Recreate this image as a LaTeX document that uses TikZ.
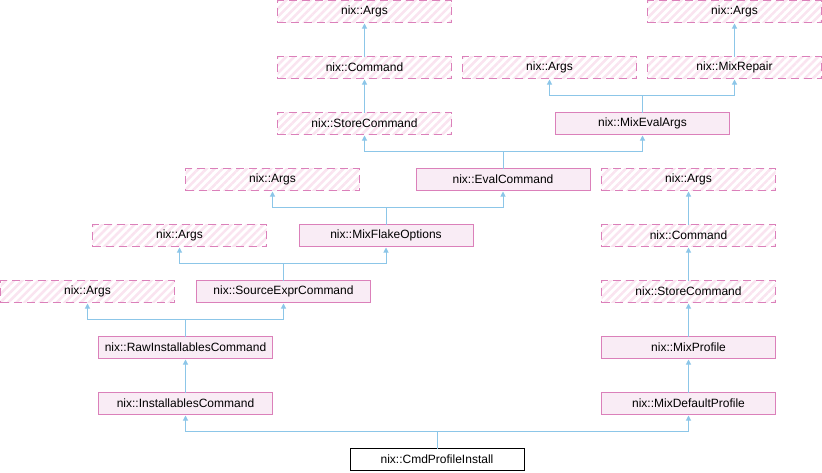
\documentclass[tikz,border=0pt]{standalone}
\usepackage{fontspec}
\setmainfont{Liberation Sans}
\usetikzlibrary{arrows.meta,patterns.meta}

\definecolor{boxline}{RGB}{219,128,186}
\definecolor{boxfill}{RGB}{249,236,245}
\definecolor{hatch}{RGB}{250,228,240}
\definecolor{edgeblue}{RGB}{140,198,232}

\tikzset{
  x=1pt, y=-1pt,
  every node/.style={font=\fontsize{12}{14}\selectfont, inner sep=0pt, outer sep=0pt,
    minimum width=174pt, minimum height=22pt, line width=1pt, anchor=center},
  cls/.style={draw=boxline, fill=boxfill},
  ext/.style={draw=boxline, dash pattern=on 8pt off 5pt,
    pattern={Lines[angle=45,distance=5.7pt,line width=2.6pt]}, pattern color=hatch},
  focus/.style={draw=black, fill=white},
  inh/.style={draw=edgeblue, line width=1pt,
    {Triangle[width=5pt,length=5pt]}-, shorten <=1pt},
}

\begin{document}
\begin{tikzpicture}
\useasboundingbox (0,0) rectangle (822,472);

% row 0
\node[ext] (argsA) at (364.5,11.5) {nix::Args};
\node[ext] (argsB) at (734.5,11.5) {nix::Args};
% row 1
\node[ext] (cmdA) at (364.5,67.5) {nix::Command};
\node[ext] (argsC) at (549.5,67.5) {nix::Args};
\node[ext] (repair) at (734.5,67.5) {nix::MixRepair};
% row 2
\node[ext] (storeA) at (364.5,123.5) {nix::StoreCommand};
\node[cls] (evalargs) at (642.5,123.5) {nix::MixEvalArgs};
% row 3
\node[ext] (argsD) at (272.5,179.5) {nix::Args};
\node[cls] (evalcmd) at (503,179.5) {nix::EvalCommand};
\node[ext] (argsE) at (688.5,179.5) {nix::Args};
% row 4
\node[ext] (argsF) at (179.5,235.5) {nix::Args};
\node[cls] (flake) at (386,235.5) {nix::MixFlakeOptions};
\node[ext] (cmdB) at (688.5,235.5) {nix::Command};
% row 5
\node[ext] (argsG) at (87.5,291.5) {nix::Args};
\node[cls] (srcexpr) at (283.5,291.5) {nix::SourceExprCommand};
\node[ext] (storeB) at (688.5,291.5) {nix::StoreCommand};
% row 6
\node[cls] (raw) at (185.5,347.5) {nix::RawInstallablesCommand};
\node[cls] (profile) at (688.5,347.5) {nix::MixProfile};
% row 7
\node[cls] (installables) at (185.5,403.5) {nix::InstallablesCommand};
\node[cls] (defprofile) at (688.5,403.5) {nix::MixDefaultProfile};
% row 8
\node[focus] (install) at (437,459.5) {nix::CmdProfileInstall};

% inheritance edges: arrow at the base class
\draw[inh] (argsA.south) -- (cmdA.north);
\draw[inh] (argsB.south) -- (repair.north);
\draw[inh] (cmdA.south) -- (storeA.north);
\draw[inh] (argsC.south) -- ++(0,-17pt) -| (evalargs.north);
\draw[inh] (repair.south) -- ++(0,-17pt) -| (evalargs.north);
\draw[inh] (storeA.south) -- ++(0,-17pt) -| (evalcmd.north);
\draw[inh] (evalargs.south) -- ++(0,-17pt) -| (evalcmd.north);
\draw[inh] (argsD.south) -- ++(0,-17pt) -| (flake.north);
\draw[inh] (evalcmd.south) -- ++(0,-17pt) -| (flake.north);
\draw[inh] (argsF.south) -- ++(0,-17pt) -| (srcexpr.north);
\draw[inh] (flake.south) -- ++(0,-17pt) -| (srcexpr.north);
\draw[inh] (argsG.south) -- ++(0,-17pt) -| (raw.north);
\draw[inh] (srcexpr.south) -- ++(0,-17pt) -| (raw.north);
\draw[inh] (raw.south) -- (installables.north);
\draw[inh] (argsE.south) -- (cmdB.north);
\draw[inh] (cmdB.south) -- (storeB.north);
\draw[inh] (storeB.south) -- (profile.north);
\draw[inh] (profile.south) -- (defprofile.north);
\draw[inh] (installables.south) -- ++(0,-17pt) -| (install.north);
\draw[inh] (defprofile.south) -- ++(0,-17pt) -| (install.north);
\end{tikzpicture}
\end{document}
